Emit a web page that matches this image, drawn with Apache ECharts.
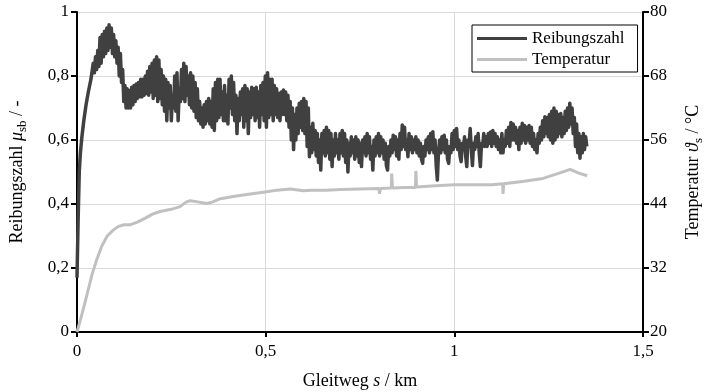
<!DOCTYPE html>
<html>
<head>
<meta charset="utf-8">
<script src="https://cdn.jsdelivr.net/npm/echarts@6/dist/echarts.min.js"></script>
<style>html,body{margin:0;padding:0;background:#fff;}#c{width:708px;height:392px;}</style>
</head>
<body>
<div id="c"></div>
<script>
// Gleitweg s in km
const xTicks = [0, 0.5, 1, 1.5];
const muTicks = [0, 0.2, 0.4, 0.6, 0.8, 1];
const tempTicks = [20, 32, 44, 56, 68, 80];
const seriesNames = ['Reibungszahl', 'Temperatur'];

// Reibungszahl mu_sb over s (km) (upper/lower excursions)
const reibung = [
[0,0.17],[0.003,0.35],[0.006,0.5],[0.009,0.56],[0.013,0.61],[0.018,0.66],[0.024,0.71],[0.03,0.75],[0.037,0.79],
[0.043,0.84],[0.046,0.81],[0.049,0.86],[0.052,0.82],[0.055,0.88],[0.058,0.83],[0.061,0.92],[0.064,0.84],[0.067,0.93],
[0.07,0.86],[0.073,0.94],[0.076,0.87],[0.079,0.95],[0.082,0.88],[0.085,0.96],[0.088,0.89],[0.091,0.95],[0.094,0.87],
[0.097,0.93],[0.1,0.86],[0.103,0.91],[0.106,0.84],[0.109,0.89],[0.112,0.8],[0.115,0.87],[0.118,0.78],[0.121,0.82],
[0.124,0.72],[0.127,0.77],[0.13,0.7],[0.133,0.76],[0.136,0.7],[0.139,0.755],[0.142,0.7],[0.145,0.765],[0.148,0.71],
[0.151,0.77],[0.154,0.72],[0.157,0.775],[0.16,0.73],[0.163,0.78],[0.166,0.735],[0.169,0.79],[0.172,0.735],[0.175,0.79],
[0.178,0.74],[0.181,0.8],[0.184,0.745],[0.187,0.815],[0.19,0.74],[0.193,0.83],[0.196,0.75],[0.199,0.84],[0.202,0.73],
[0.205,0.85],[0.208,0.74],[0.211,0.86],[0.214,0.72],[0.217,0.85],[0.22,0.73],[0.223,0.82],[0.226,0.71],[0.229,0.8],
[0.232,0.69],[0.235,0.79],[0.238,0.66],[0.241,0.78],[0.244,0.7],[0.247,0.77],[0.25,0.66],[0.253,0.74],[0.256,0.7],
[0.259,0.8],[0.262,0.69],[0.265,0.81],[0.268,0.66],[0.271,0.76],[0.274,0.72],[0.277,0.82],[0.28,0.73],[0.283,0.84],
[0.286,0.72],[0.289,0.83],[0.292,0.74],[0.295,0.8],[0.298,0.71],[0.301,0.81],[0.304,0.7],[0.307,0.8],[0.31,0.69],
[0.313,0.78],[0.316,0.67],[0.319,0.76],[0.322,0.66],[0.325,0.72],[0.328,0.65],[0.331,0.7],[0.334,0.64],[0.337,0.71],
[0.34,0.65],[0.343,0.72],[0.346,0.66],[0.349,0.73],[0.352,0.65],[0.355,0.72],[0.358,0.64],[0.361,0.76],[0.364,0.63],
[0.367,0.78],[0.37,0.66],[0.373,0.79],[0.376,0.67],[0.379,0.79],[0.382,0.68],[0.385,0.75],[0.388,0.66],[0.391,0.77],
[0.394,0.66],[0.397,0.74],[0.4,0.65],[0.403,0.79],[0.406,0.7],[0.409,0.8],[0.412,0.68],[0.415,0.78],[0.418,0.66],
[0.421,0.74],[0.424,0.62],[0.427,0.73],[0.43,0.66],[0.433,0.75],[0.436,0.68],[0.439,0.76],[0.442,0.64],[0.445,0.77],
[0.448,0.66],[0.451,0.76],[0.454,0.62],[0.457,0.75],[0.46,0.67],[0.463,0.765],[0.466,0.68],[0.469,0.76],[0.472,0.66],
[0.475,0.765],[0.478,0.67],[0.481,0.75],[0.484,0.64],[0.487,0.77],[0.49,0.68],[0.493,0.78],[0.496,0.66],[0.499,0.8],
[0.502,0.64],[0.505,0.81],[0.508,0.67],[0.511,0.79],[0.514,0.68],[0.517,0.79],[0.52,0.66],[0.523,0.77],[0.526,0.68],
[0.529,0.76],[0.532,0.67],[0.535,0.745],[0.538,0.66],[0.541,0.75],[0.544,0.68],[0.547,0.756],[0.55,0.68],[0.553,0.75],
[0.556,0.66],[0.559,0.74],[0.562,0.64],[0.565,0.72],[0.568,0.6],[0.571,0.7],[0.574,0.57],[0.577,0.68],[0.58,0.6],
[0.583,0.7],[0.586,0.62],[0.589,0.715],[0.592,0.64],[0.595,0.72],[0.598,0.63],[0.601,0.73],[0.604,0.62],[0.607,0.72],
[0.61,0.58],[0.613,0.7],[0.616,0.548],[0.619,0.64],[0.622,0.56],[0.625,0.652],[0.628,0.57],[0.631,0.63],[0.634,0.55],
[0.637,0.62],[0.64,0.53],[0.643,0.6],[0.646,0.506],[0.649,0.62],[0.652,0.56],[0.655,0.63],[0.658,0.55],[0.661,0.64],
[0.664,0.56],[0.667,0.63],[0.67,0.54],[0.673,0.62],[0.676,0.517],[0.679,0.6],[0.682,0.55],[0.685,0.62],[0.688,0.56],
[0.691,0.6],[0.694,0.54],[0.697,0.62],[0.7,0.56],[0.703,0.63],[0.706,0.55],[0.709,0.62],[0.712,0.53],[0.715,0.6],
[0.718,0.5],[0.721,0.59],[0.724,0.55],[0.727,0.61],[0.73,0.56],[0.733,0.6],[0.736,0.54],[0.739,0.61],[0.742,0.55],
[0.745,0.6],[0.748,0.53],[0.751,0.59],[0.754,0.517],[0.757,0.6],[0.76,0.56],[0.763,0.61],[0.766,0.55],[0.769,0.62],
[0.772,0.56],[0.775,0.61],[0.778,0.54],[0.781,0.58],[0.784,0.506],[0.787,0.6],[0.79,0.55],[0.793,0.61],[0.796,0.56],
[0.799,0.62],[0.802,0.55],[0.805,0.61],[0.808,0.56],[0.811,0.6],[0.814,0.54],[0.817,0.59],[0.82,0.52],[0.823,0.506],
[0.826,0.58],[0.829,0.55],[0.832,0.6],[0.835,0.56],[0.838,0.615],[0.841,0.57],[0.844,0.61],[0.847,0.55],[0.85,0.6],
[0.853,0.54],[0.856,0.62],[0.859,0.57],[0.862,0.647],[0.865,0.58],[0.868,0.64],[0.871,0.57],[0.874,0.6],[0.877,0.548],
[0.88,0.62],[0.883,0.57],[0.886,0.61],[0.889,0.56],[0.892,0.6],[0.895,0.57],[0.898,0.61],[0.901,0.56],[0.904,0.6],
[0.907,0.55],[0.91,0.59],[0.913,0.54],[0.916,0.527],[0.919,0.58],[0.922,0.55],[0.925,0.6],[0.928,0.57],[0.931,0.61],
[0.934,0.56],[0.937,0.62],[0.94,0.57],[0.943,0.626],[0.946,0.56],[0.949,0.6],[0.952,0.52],[0.955,0.475],[0.958,0.56],
[0.961,0.6],[0.964,0.56],[0.967,0.61],[0.97,0.57],[0.973,0.615],[0.976,0.56],[0.979,0.6],[0.982,0.54],[0.985,0.527],
[0.988,0.58],[0.991,0.56],[0.994,0.62],[0.997,0.57],[1.0,0.63],[1.003,0.58],[1.006,0.636],[1.009,0.57],[1.012,0.6],
[1.015,0.55],[1.018,0.532],[1.021,0.59],[1.024,0.57],[1.027,0.61],[1.03,0.55],[1.033,0.517],[1.036,0.6],[1.039,0.58],
[1.042,0.636],[1.045,0.57],[1.048,0.52],[1.051,0.59],[1.054,0.57],[1.057,0.61],[1.06,0.58],[1.063,0.62],[1.066,0.56],
[1.069,0.517],[1.072,0.59],[1.075,0.58],[1.078,0.62],[1.081,0.58],[1.084,0.61],[1.087,0.58],[1.09,0.62],[1.093,0.59],
[1.096,0.625],[1.099,0.58],[1.102,0.63],[1.105,0.59],[1.108,0.62],[1.111,0.58],[1.114,0.61],[1.117,0.57],[1.12,0.6],
[1.123,0.56],[1.126,0.62],[1.129,0.56],[1.132,0.6],[1.135,0.58],[1.138,0.63],[1.141,0.59],[1.144,0.64],[1.147,0.58],
[1.15,0.655],[1.153,0.6],[1.156,0.65],[1.159,0.6],[1.162,0.64],[1.165,0.59],[1.168,0.63],[1.171,0.57],[1.174,0.64],
[1.177,0.59],[1.18,0.652],[1.183,0.6],[1.186,0.645],[1.189,0.59],[1.192,0.64],[1.195,0.6],[1.198,0.645],[1.201,0.59],
[1.204,0.64],[1.207,0.58],[1.21,0.62],[1.213,0.57],[1.216,0.6],[1.219,0.56],[1.222,0.62],[1.225,0.59],[1.228,0.64],
[1.231,0.6],[1.234,0.66],[1.237,0.61],[1.24,0.673],[1.243,0.62],[1.246,0.67],[1.249,0.61],[1.252,0.68],[1.255,0.6],
[1.258,0.69],[1.261,0.59],[1.264,0.7],[1.267,0.6],[1.27,0.69],[1.273,0.61],[1.276,0.68],[1.279,0.62],[1.282,0.683],
[1.285,0.61],[1.288,0.67],[1.291,0.62],[1.294,0.69],[1.297,0.63],[1.3,0.7],[1.303,0.64],[1.306,0.715],[1.309,0.65],
[1.312,0.7],[1.315,0.62],[1.318,0.67],[1.321,0.58],[1.324,0.65],[1.327,0.56],[1.33,0.62],[1.333,0.543],[1.336,0.61],
[1.339,0.56],[1.342,0.62],[1.345,0.57],[1.348,0.61],[1.351,0.58]
];

// Temperatur in °C over s (km)
const temperatur = [
[0,20],[0.01,22.5],[0.02,25.2],[0.03,28],[0.04,30.8],[0.052,33.5],[0.065,36],[0.08,38],[0.096,39.1],[0.11,39.8],
[0.125,40.1],[0.14,40.1],[0.16,40.6],[0.18,41.3],[0.2,42.1],[0.22,42.6],[0.25,43.0],[0.273,43.5],[0.29,44.4],[0.3,44.6],
[0.32,44.4],[0.344,44.1],[0.36,44.4],[0.38,45.0],[0.414,45.4],[0.45,45.8],[0.503,46.3],[0.53,46.6],[0.565,46.8],
[0.6,46.5],[0.62,46.6],[0.66,46.6],[0.7,46.7],[0.75,46.8],[0.8,46.9],[0.802,45.9],[0.804,46.9],[0.833,47.0],[0.834,49.7],
[0.836,47.0],[0.87,47.1],[0.897,47.1],[0.898,50.2],[0.9,47.2],[0.95,47.4],[1.0,47.6],[1.05,47.6],[1.1,47.6],[1.128,47.8],
[1.129,45.9],[1.131,47.8],[1.18,48.2],[1.235,48.8],[1.27,49.6],[1.307,50.5],[1.33,49.8],[1.352,49.3]
];

const FONT = 'Liberation Serif';
const comma = v => String(v).replace('.', ',');

const chart = echarts.init(document.getElementById('c'), null, {renderer: 'canvas'});
chart.setOption({
  animation: false,
  backgroundColor: '#fff',
  grid: {left: 77, right: 65, top: 12, bottom: 60, containLabel: false, outerBoundsMode: 'none'},
  legend: {
    data: seriesNames,
    left: 472, top: 25,
    orient: 'vertical',
    icon: 'rect',
    itemWidth: 50, itemHeight: 3, itemGap: 4,
    padding: [5, 13, 4, 5],
    borderColor: '#000', borderWidth: 1,
    backgroundColor: '#fff',
    textStyle: {fontFamily: FONT, fontSize: 17, color: '#000'}
  },
  xAxis: {
    type: 'value', min: 0, max: 1.5, interval: 0.5,
    axisLine: {show: true, onZero: false, lineStyle: {color: '#000', width: 2}},
    axisTick: {show: true, length: 5, lineStyle: {color: '#000', width: 2}},
    axisLabel: {fontFamily: FONT, fontSize: 17, color: '#000', margin: 11, formatter: comma},
    splitLine: {show: true, lineStyle: {color: '#d9d9d9', width: 1}},
    name: '{n|Gleitweg }{i|s}{n| / km}',
    nameLocation: 'middle', nameGap: 40,
    nameTextStyle: {fontFamily: FONT, fontSize: 18, color: '#000',
      rich: {n: {fontFamily: FONT, fontSize: 18, color: '#000'}, i: {fontFamily: FONT, fontSize: 18, fontStyle: 'italic', color: '#000'}}}
  },
  yAxis: [{
    type: 'value', min: 0, max: 1, interval: 0.2, position: 'left',
    axisLine: {show: true, onZero: false, lineStyle: {color: '#000', width: 2}},
    axisTick: {show: true, length: 6, lineStyle: {color: '#000', width: 2}},
    axisLabel: {fontFamily: FONT, fontSize: 17, color: '#000', margin: 8, formatter: comma},
    splitLine: {show: true, lineStyle: {color: '#d9d9d9', width: 1}},
    name: '{n|Reibungszahl }{i|μ}{sub|sb}{n| / -}',
    nameLocation: 'middle', nameRotate: 90, nameGap: 48,
    nameTextStyle: {fontFamily: FONT, fontSize: 18, color: '#000',
      rich: {
        n: {fontFamily: FONT, fontSize: 18, color: '#000', lineHeight: 24, verticalAlign: 'middle'},
        i: {fontFamily: FONT, fontSize: 18, fontStyle: 'italic', color: '#000', lineHeight: 24, verticalAlign: 'middle'},
        sub: {fontFamily: FONT, fontSize: 13, color: '#000', lineHeight: 12, verticalAlign: 'bottom'}
      }}
  }, {
    type: 'value', min: 20, max: 80, interval: 12, position: 'right',
    axisLine: {show: true, onZero: false, lineStyle: {color: '#000', width: 2}},
    axisTick: {show: true, length: 6, lineStyle: {color: '#000', width: 2}},
    axisLabel: {fontFamily: FONT, fontSize: 17, color: '#000', margin: 7},
    splitLine: {show: false},
    name: '{n|Temperatur }{i|ϑ}{sub|s}{n| / °C}',
    nameLocation: 'middle', nameRotate: 90, nameGap: 38,
    nameTextStyle: {fontFamily: FONT, fontSize: 18, color: '#000',
      rich: {
        n: {fontFamily: FONT, fontSize: 18, color: '#000', lineHeight: 24, verticalAlign: 'middle'},
        i: {fontFamily: FONT, fontSize: 18, fontStyle: 'italic', color: '#000', lineHeight: 24, verticalAlign: 'middle'},
        sub: {fontFamily: FONT, fontSize: 13, color: '#000', lineHeight: 12, verticalAlign: 'bottom'}
      }}
  }],
  series: [{
    name: seriesNames[0], type: 'line', yAxisIndex: 0, data: reibung,
    showSymbol: false, symbol: 'none', sampling: null, z: 3,
    color: '#404040',
    lineStyle: {color: '#404040', width: 3.5, join: 'round'}
  }, {
    name: seriesNames[1], type: 'line', yAxisIndex: 1, data: temperatur,
    showSymbol: false, symbol: 'none', z: 2,
    color: '#c0c0c0',
    lineStyle: {color: '#c0c0c0', width: 3}
  }]
});
</script>
</body>
</html>
